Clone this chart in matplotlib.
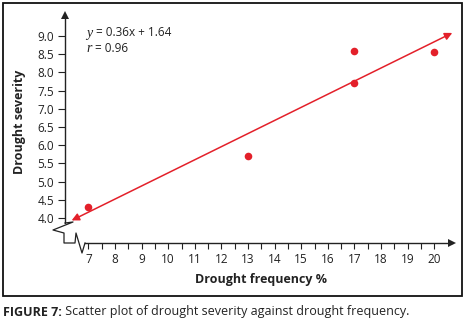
import matplotlib
matplotlib.use("Agg")
import matplotlib.pyplot as plt
from matplotlib.patches import Rectangle
import numpy as np

# ---- data ----
freq = [7, 13, 17, 17, 20]
severity = [4.3, 5.7, 7.7, 8.6, 8.55]
slope, intercept = 0.36, 1.64
fit_x = [6.37, 20.68]
x_ticks = list(range(7, 21))
x_minor = [v + 0.5 for v in range(7, 20)]
y_ticks = [4.0, 4.5, 5.0, 5.5, 6.0, 6.5, 7.0, 7.5, 8.0, 8.5, 9.0]
eq_text = " = 0.36x + 1.64"
r_text = " = 0.96"
xlabel = "Drought frequency %"
ylabel = "Drought severity"
cap_bold = "FIGURE 7:"
cap_rest = " Scatter plot of drought severity against drought frequency."

RED = "#e3202a"
AX = "#222222"
FONT = "Open Sans"
plt.rcParams['font.family'] = [FONT, 'DejaVu Sans']

W, H = 466, 323
fig = plt.figure(figsize=(W / 100, H / 100), dpi=100)

# pixel <-> data helpers (layout only)
def px2x(px):
    return 7 + (px - 88.4) / 26.6

def py2y(py):
    return 4 + (218 - py) / 36.4

L, R, T, B = 65, 452, 15, 243
ax = fig.add_axes([L / W, (H - B) / H, (R - L) / W, (B - T) / H])
ax.set_xlim(px2x(L), px2x(R))
ax.set_ylim(py2y(B), py2y(T))
ax.patch.set_visible(False)

for s in ['top', 'right']:
    ax.spines[s].set_visible(False)
ax.spines['left'].set_bounds(py2y(223), py2y(T))
ax.spines['bottom'].set_bounds(px2x(85), px2x(R))
for s in ['left', 'bottom']:
    ax.spines[s].set_color(AX)
    ax.spines[s].set_linewidth(1.0)

ax.set_xticks(x_ticks)
ax.set_xticks(x_minor, minor=True)
ax.set_yticks(y_ticks)
ax.set_yticklabels([f"{v:.1f}" for v in y_ticks])
ax.tick_params(axis='x', which='both', direction='out', length=4.5, width=0.8,
               color=AX, labelsize=8.5, labelcolor='#222222', pad=3)
ax.tick_params(axis='y', which='both', direction='out', length=4.8, width=0.8,
               color=AX, labelsize=8.5, labelcolor='#222222', pad=3)

# axis arrow heads
ax.plot([px2x(L)], [py2y(T)], marker='^', markersize=6, color=AX, clip_on=False,
        markeredgewidth=0)
ax.plot([px2x(R)], [py2y(B)], marker='>', markersize=6, color=AX, clip_on=False,
        markeredgewidth=0)

# axis break zigzag
zz_px = [(65, 223), (73, 222), (53, 230), (64, 233), (64, 243), (75, 243),
         (76, 233), (82, 253), (85, 243)]
ax.plot([px2x(p[0]) for p in zz_px], [py2y(p[1]) for p in zz_px], color=AX,
        lw=0.9, clip_on=False)

# scatter points
ax.scatter(freq, severity, s=30, color=RED, zorder=5, clip_on=False, linewidths=0)

# regression line with double arrow
fy = [slope * v + intercept for v in fit_x]
ax.annotate("", xy=(fit_x[1], fy[1]), xytext=(fit_x[0], fy[0]),
            arrowprops=dict(arrowstyle='<|-|>', color=RED, lw=1.1,
                            mutation_scale=11, shrinkA=0, shrinkB=0),
            annotation_clip=False)

# equation text
ax.text(px2x(86), py2y(33), "y", family='Liberation Serif', style='italic',
        fontsize=10, va='center', ha='left', color='#222222')
ax.text(px2x(93), py2y(33), eq_text, fontsize=8.5, va='center', ha='left',
        color='#222222')
ax.text(px2x(86), py2y(49), "r", family='Liberation Serif', style='italic',
        fontsize=10, va='center', ha='left', color='#222222')
ax.text(px2x(91.5), py2y(49), r_text, fontsize=8.5, va='center', ha='left',
        color='#222222')

# axis labels
fig.text(261 / W, 1 - 279 / H, xlabel, fontsize=9, fontweight='bold',
         ha='center', va='center', color='#222222')
fig.text(20 / W, 1 - 122 / H, ylabel, fontsize=9, fontweight='bold',
         ha='center', va='center', rotation=90, color='#222222')

# outer box
fig.patches.append(Rectangle((3 / W, (H - 296) / H), 459 / W, 293 / H,
                             transform=fig.transFigure, fill=False,
                             edgecolor='#111111', lw=1.3))

# caption
t1 = fig.text(3 / W, 1 - 312 / H, cap_bold, fontsize=9, fontweight='bold',
              ha='left', va='center', color='#222222')
fig.canvas.draw()
bb = t1.get_window_extent()
fig.text(bb.x1 / W, 1 - 312 / H, cap_rest, fontsize=9, ha='left',
         va='center', color='#222222')

fig.savefig("out.png", dpi=100)
